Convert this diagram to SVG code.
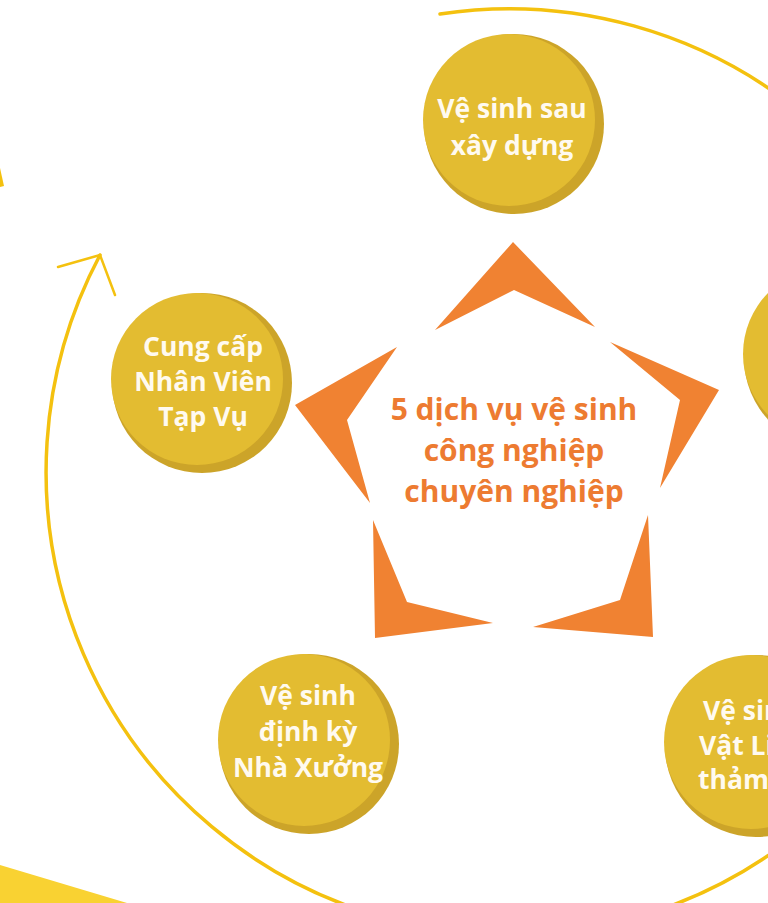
<svg xmlns="http://www.w3.org/2000/svg" width="768" height="903" viewBox="0 0 768 903">
<style>
.rim{fill:#cca429}
.face{fill:#e3bc31}
.lbl{font-family:"Open Sans","Noto Sans","DejaVu Sans",sans-serif;font-weight:700;font-size:26.5px;fill:#fffaf0;text-anchor:middle}
.lbl-s{text-anchor:start}
.ctr{font-family:"Open Sans","Noto Sans","DejaVu Sans",sans-serif;font-weight:700;font-size:30px;fill:#ed7b31;text-anchor:middle}
.ray{fill:#f08232}
.arc{fill:none;stroke:#f4c10f;stroke-width:3.5;stroke-linecap:round}
.head{fill:none;stroke:#f4c10f;stroke-width:2.5;stroke-linecap:round}
</style>
<rect width="768" height="903" fill="#ffffff"/>
<polygon points="0,865 127,903 0,903" fill="#f9d232"/>
<polygon points="0,168 4,186 0,187" fill="#f4c10f"/>
<g id="connectors">
<path class="arc" d="M440,14 A463,463 0 1 1 100,255"/>
<path class="head" d="M58,267 L100,255 L115,295"/>
</g>
<g id="center">
<polygon class="ray" points="513,242 595,327 514,290 435,330"/>
<polygon class="ray" points="610,342 719,390 660,488 680,400"/>
<polygon class="ray" points="397,347 295,405 370,503 347,420"/>
<polygon class="ray" points="373,520 375,638 493,623 407,602"/>
<polygon class="ray" points="648,515 653,637 533,627 620,600"/>
<text class="ctr" x="514" y="420">5 dịch vụ vệ sinh</text>
<text class="ctr" x="514" y="461">công nghiệp</text>
<text class="ctr" x="514" y="502">chuyên nghiệp</text>
</g>
<g id="node-top">
<circle class="rim" cx="514" cy="124" r="90"/>
<circle class="face" cx="509" cy="120" r="86"/>
<text class="lbl" x="512" y="118">Vệ sinh sau</text>
<text class="lbl" x="512" y="155">xây dựng</text>
</g>
<g id="node-left">
<circle class="rim" cx="202" cy="383" r="90"/>
<circle class="face" cx="197" cy="379" r="86"/>
<text class="lbl" x="203" y="356">Cung cấp</text>
<text class="lbl" x="203" y="391">Nhân Viên</text>
<text class="lbl" x="203" y="426">Tạp Vụ</text>
</g>
<g id="node-bottom-left">
<circle class="rim" cx="309" cy="744" r="90"/>
<circle class="face" cx="304" cy="740" r="86"/>
<text class="lbl" x="308" y="705">Vệ sinh</text>
<text class="lbl" x="308" y="741">định kỳ</text>
<text class="lbl" x="308" y="777">Nhà Xưởng</text>
</g>
<g id="node-bottom-right">
<circle class="rim" cx="756" cy="746" r="91"/>
<circle class="face" cx="751" cy="742" r="87"/>
<text class="lbl lbl-s" x="703" y="720">Vệ sin</text>
<text class="lbl lbl-s" x="699" y="755">Vật Li</text>
<text class="lbl lbl-s" x="698" y="789">thảm</text>
</g>
<g id="node-right">
<circle class="rim" cx="835" cy="358" r="91"/>
<circle class="face" cx="830" cy="354" r="87"/>
</g>
</svg>
